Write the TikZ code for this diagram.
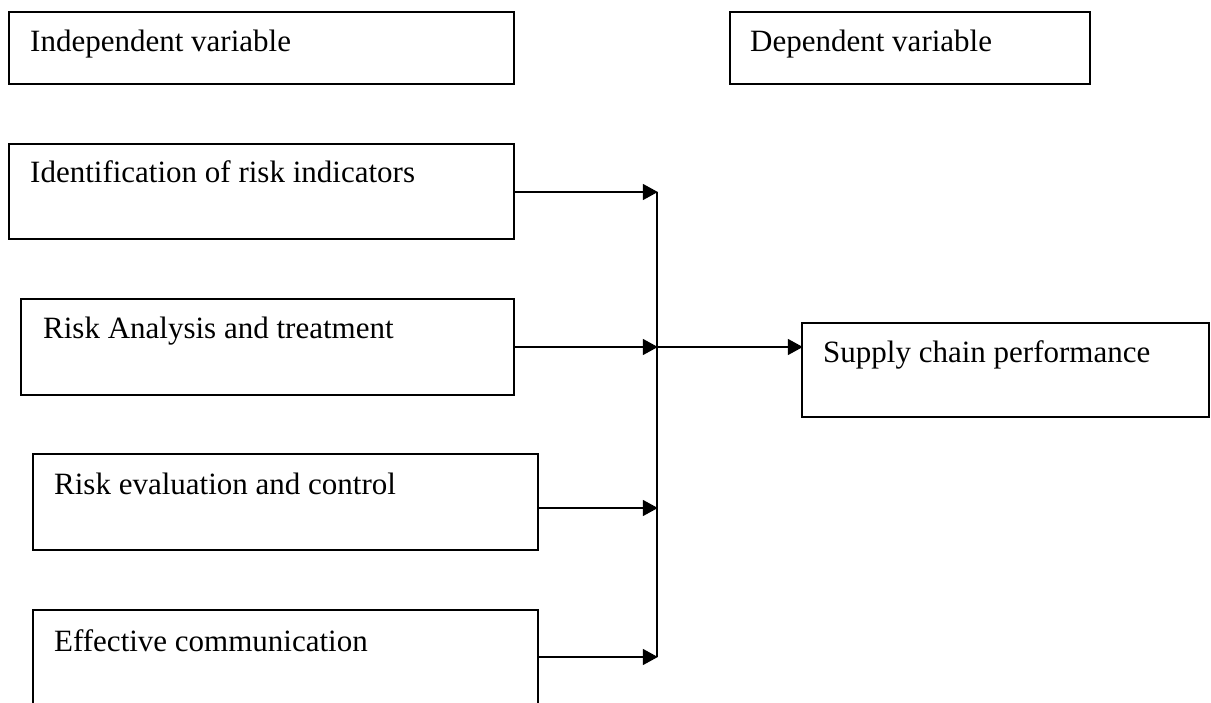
\documentclass[tikz,border=0pt]{standalone}
\usepackage{fontspec}
\setmainfont{Liberation Serif}
\usetikzlibrary{arrows.meta,calc}
\tikzset{
  box/.style={draw, line width=1.8pt, anchor=north west, inner sep=0pt, outer sep=0pt},
  lbl/.style={anchor=base west, inner sep=0pt, font=\fontsize{31}{36}\selectfont},
  conn/.style={line width=1.7pt},
  arr/.style={conn, -{Triangle[length=15pt,width=16pt]}, shorten >=-0.8pt},
}
\begin{document}
\begin{tikzpicture}[x=1pt,y=-1pt]
\clip (0,0) rectangle (1211,703);
\fill[white] (0,0) rectangle (1211,703);
% boxes
\node[box, minimum width=505pt, minimum height=72pt] (b1) at (9,12) {};
\node[box, minimum width=360pt, minimum height=72pt] (b2) at (730,12) {};
\node[box, minimum width=505pt, minimum height=95pt] (b3) at (9,144) {};
\node[box, minimum width=493pt, minimum height=96pt] (b4) at (21,299) {};
\node[box, minimum width=505pt, minimum height=96pt] (b5) at (33,454) {};
\node[box, minimum width=505pt, minimum height=96pt] (b6) at (33,610) {};
\node[box, minimum width=407pt, minimum height=94pt] (b7) at (802,323) {};
% texts
\node[lbl] (t1) at (30,52) {Independent variable};
\node[lbl] (t2) at (750,52) {Dependent variable};
\node[lbl] (t3) at (30,183) {Identification of risk indicators};
\node[lbl] (t4) at (43,339) {Risk Analysis and treatment};
\node[lbl] (t5) at (54,494) {Risk evaluation and control};
\node[lbl] (t6) at (54,651) {Effective communication};
\node[lbl] (t7) at (823,363) {Supply chain performance};
% bus
\coordinate (j1) at (657,192);
\coordinate (j2) at (657,347);
\coordinate (j3) at (657,508);
\coordinate (j4) at (657,657);
\draw[conn] (j1) -- (j4);
\draw[arr] (b3.east |- j1) -- (j1);
\draw[arr] (b4.east |- j2) -- (j2);
\draw[arr] (b5.east |- j3) -- (j3);
\draw[arr] (b6.east |- j4) -- (j4);
\draw[arr] (j2) -- (b7.west |- j2);
\end{tikzpicture}
\end{document}
